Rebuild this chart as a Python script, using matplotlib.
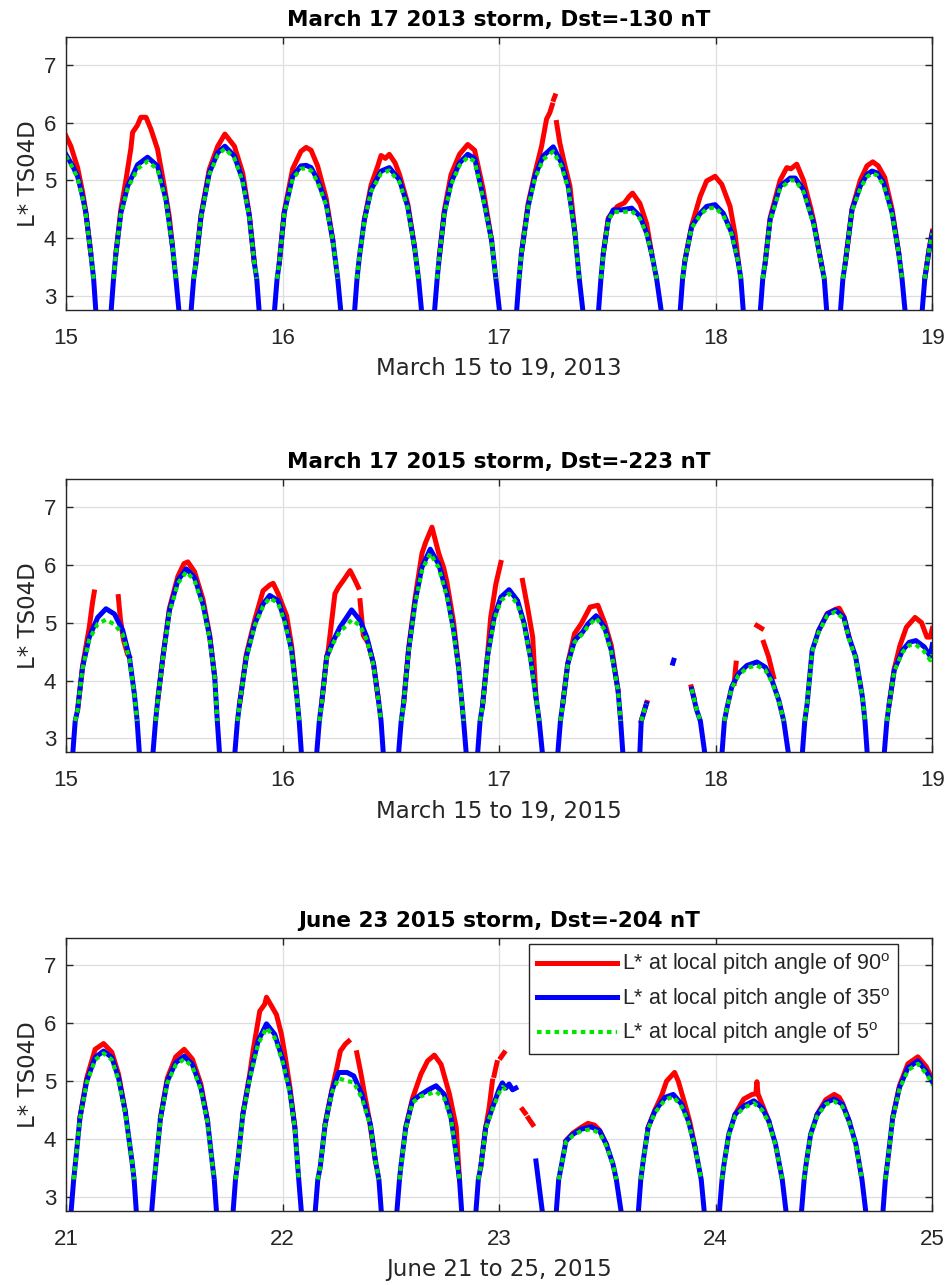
import numpy as np
import matplotlib.pyplot as plt

nan = np.nan

plt.rcParams['font.family'] = ['Liberation Sans', 'DejaVu Sans']
plt.rcParams['mathtext.fontset'] = 'custom'
plt.rcParams['mathtext.rm'] = 'Liberation Sans'

# ---- March 2013 storm: L* at 35 deg (blue) and 5 deg (green) share times
t_a = [
    15.000, 15.031, 15.054, 15.077, 15.092, 15.115, 15.128, 15.139, nan,
    15.208, 15.220, 15.231, 15.254, 15.285, 15.331, 15.377, 15.423, 15.462, 15.492, 15.508, 15.523, nan,
    15.577, 15.590, 15.600, 15.624, 15.662, 15.701, 15.734, 15.778, 15.816, 15.847, 15.870, 15.881, 15.893, nan,
    15.962, 15.975, 15.985, 16.008, 16.047, 16.085, 16.109, 16.132, 16.162, 16.201, 16.232, 16.255, 16.270, nan,
    16.332, 16.344, 16.355, 16.378, 16.409, 16.455, 16.493, 16.540, 16.578, 16.609, 16.628, 16.643, nan,
    16.701, 16.714, 16.724, 16.747, 16.778, 16.817, 16.855, 16.887, 16.926, 16.965, 16.985, 17.003, nan,
    17.080, 17.092, 17.103, 17.134, 17.165, 17.203, 17.250, 17.288, 17.319, 17.350, 17.370, 17.388, nan,
    17.458, 17.470, 17.481, 17.504, 17.527, 17.566, 17.612, 17.650, 17.681, 17.704, 17.727, 17.750, nan,
    17.835, 17.847, 17.858, 17.889, 17.928, 17.958, 17.997, 18.035, 18.074, 18.105, 18.116, 18.128, nan,
    18.205, 18.217, 18.228, 18.251, 18.297, 18.344, 18.367, 18.405, 18.452, 18.490, 18.501, 18.513, nan,
    18.575, 18.587, 18.598, 18.629, 18.667, 18.698, 18.721, 18.744, 18.775, 18.814, 18.845, 18.860, 18.875, nan,
    18.952, 18.965, 18.985, 19.000,
]
l35_a = [
    5.45, 5.25, 5.07, 4.72, 4.44, 3.74, 3.30, 2.70, nan,
    2.70, 3.30, 3.74, 4.44, 4.90, 5.27, 5.40, 5.25, 4.67, 3.86, 3.30, 2.70, nan,
    2.70, 3.30, 3.57, 4.38, 5.13, 5.48, 5.59, 5.42, 5.01, 4.38, 3.57, 3.30, 2.70, nan,
    2.70, 3.30, 3.57, 4.44, 5.07, 5.25, 5.26, 5.22, 5.01, 4.61, 3.97, 3.30, 2.70, nan,
    2.70, 3.30, 3.68, 4.32, 4.84, 5.16, 5.22, 5.01, 4.55, 3.86, 3.30, 2.70, nan,
    2.70, 3.30, 3.68, 4.44, 4.96, 5.30, 5.45, 5.38, 4.72, 3.97, 3.30, 2.70, nan,
    2.70, 3.30, 3.74, 4.55, 5.07, 5.42, 5.58, 5.30, 4.90, 4.09, 3.30, 2.70, nan,
    2.70, 3.30, 3.74, 4.32, 4.49, 4.49, 4.52, 4.38, 4.09, 3.74, 3.30, 2.70, nan,
    2.70, 3.30, 3.62, 4.20, 4.43, 4.55, 4.58, 4.43, 4.09, 3.57, 3.30, 2.70, nan,
    2.70, 3.30, 3.57, 4.32, 4.90, 5.04, 5.04, 4.84, 4.26, 3.51, 3.30, 2.70, nan,
    2.70, 3.30, 3.57, 4.49, 4.90, 5.10, 5.16, 5.13, 4.96, 4.44, 3.74, 3.30, 2.70, nan,
    2.70, 3.30, 3.80, 4.09,
]
l5_a = [
    5.42, 5.22, 5.04, 4.70, 4.42, 3.74, 3.30, nan, nan,
    nan, 3.30, 3.74, 4.42, 4.86, 5.20, 5.33, 5.19, 4.64, 3.86, 3.30, nan, nan,
    nan, 3.30, 3.57, 4.36, 5.10, 5.44, 5.55, 5.38, 4.98, 4.36, 3.57, 3.30, nan, nan,
    nan, 3.30, 3.57, 4.42, 5.03, 5.20, 5.21, 5.17, 4.97, 4.58, 3.96, 3.30, nan, nan,
    nan, 3.30, 3.68, 4.30, 4.81, 5.12, 5.17, 4.97, 4.52, 3.85, 3.30, nan, nan,
    nan, 3.30, 3.68, 4.42, 4.92, 5.26, 5.40, 5.33, 4.69, 3.96, 3.30, nan, nan,
    nan, 3.30, 3.74, 4.53, 5.03, 5.36, 5.50, 5.24, 4.86, 4.08, 3.30, nan, nan,
    nan, 3.30, 3.74, 4.30, 4.46, 4.45, 4.47, 4.34, 4.07, 3.73, 3.30, nan, nan,
    nan, 3.30, 3.62, 4.18, 4.40, 4.51, 4.53, 4.39, 4.06, 3.56, 3.30, nan, nan,
    nan, 3.30, 3.57, 4.30, 4.86, 5.00, 5.00, 4.80, 4.24, 3.50, 3.30, nan, nan,
    nan, 3.30, 3.57, 4.47, 4.86, 5.06, 5.12, 5.09, 4.92, 4.41, 3.73, 3.30, nan, nan,
    nan, 3.30, 3.80, 4.09,
]
# L* at 90 deg (red); follows the 35 deg curve outside these stretches
tr_a = [
    15.000, 15.023, 15.054, 15.077, 15.092, 15.115, nan,
    15.231, 15.254, 15.277, 15.300, 15.308, 15.330, 15.346, 15.370, 15.393, 15.423, 15.454, 15.477, 15.492, nan,
    15.600, 15.624, 15.662, 15.701, 15.734, 15.778, 15.816, 15.847, 15.870, nan,
    15.985, 16.008, 16.047, 16.085, 16.109, 16.132, 16.162, 16.201, 16.232, nan,
    16.378, 16.409, 16.440, 16.455, 16.475, 16.493, 16.520, 16.540, 16.578, 16.609, nan,
    16.724, 16.747, 16.778, 16.817, 16.855, 16.887, 16.926, 16.965, nan,
    17.103, 17.134, 17.165, 17.196, 17.219, 17.234, 17.245, nan, 17.252, 17.258, nan,
    17.265, 17.280, 17.304, 17.327, 17.350, nan,
    17.481, 17.504, 17.546, 17.578, 17.600, 17.616, 17.650, 17.681, 17.704, nan,
    17.858, 17.889, 17.928, 17.958, 17.997, 18.028, 18.066, 18.090, 18.105, nan,
    18.228, 18.251, 18.297, 18.328, 18.347, 18.374, 18.405, 18.440, 18.452, 18.490, nan,
    18.598, 18.629, 18.667, 18.698, 18.725, 18.750, 18.780, 18.814, 18.845, nan,
    18.965, 18.985, 19.000,
]
l90_a = [
    5.77, 5.59, 5.22, 4.80, 4.46, 3.74, nan,
    3.74, 4.50, 5.00, 5.55, 5.83, 5.95, 6.09, 6.09, 5.88, 5.54, 4.90, 4.38, 3.86, nan,
    3.57, 4.40, 5.19, 5.59, 5.80, 5.59, 5.13, 4.40, 3.57, nan,
    3.57, 4.46, 5.20, 5.50, 5.57, 5.52, 5.25, 4.70, 3.97, nan,
    4.32, 4.92, 5.25, 5.43, 5.38, 5.45, 5.30, 5.10, 4.60, 3.86, nan,
    3.68, 4.48, 5.10, 5.45, 5.62, 5.52, 4.85, 3.97, nan,
    3.74, 4.60, 5.12, 5.59, 6.06, 6.17, 6.30, nan, 6.40, 6.46, nan,
    6.00, 5.65, 5.25, 4.90, 4.09, nan,
    3.74, 4.35, 4.55, 4.61, 4.72, 4.78, 4.60, 4.25, 3.74, nan,
    3.62, 4.22, 4.72, 4.99, 5.07, 4.93, 4.55, 4.05, 3.57, nan,
    3.57, 4.35, 5.00, 5.22, 5.20, 5.28, 5.00, 4.50, 4.30, 3.51, nan,
    3.57, 4.50, 5.00, 5.25, 5.32, 5.25, 5.05, 4.50, 3.74, nan,
    3.30, 3.82, 4.12,
]

# ---- March 2015 storm
t_b = [
    15.031, 15.043, 15.054, 15.077, 15.108, 15.147, 15.185, 15.224, 15.262, 15.293, 15.316, 15.329, 15.340, nan,
    15.401, 15.414, 15.424, 15.448, 15.478, 15.517, 15.556, 15.594, 15.633, 15.664, 15.687, 15.699, 15.710, nan,
    15.779, 15.792, 15.802, 15.833, 15.872, 15.910, 15.941, 15.980, 16.011, 16.042, 16.065, 16.077, 16.088, nan,
    16.157, 16.170, 16.181, 16.204, 16.235, 16.265, 16.296, 16.319, 16.358, 16.389, 16.420, 16.443, 16.455, 16.466, nan,
    16.535, 16.548, 16.559, 16.582, 16.613, 16.644, 16.682, 16.721, 16.759, 16.790, 16.813, 16.836, 16.849, nan,
    16.900, 16.912, 16.923, 16.946, 16.977, 17.008, 17.046, 17.085, 17.116, 17.147, 17.170, 17.185, 17.201, nan,
    17.270, 17.283, 17.294, 17.317, 17.348, 17.386, 17.410, 17.448, 17.487, 17.518, 17.549, 17.561, 17.572, nan,
    17.649, 17.656, 17.680, nan,
    17.802, 17.806, nan,
    17.889, 17.912, 17.929, 17.951, nan,
    18.028, 18.040, 18.051, 18.074, 18.105, 18.144, 18.190, 18.229, 18.260, 18.291, 18.314, 18.337, nan,
    18.399, 18.411, 18.422, 18.445, 18.476, 18.515, 18.553, 18.592, 18.615, 18.646, 18.677, 18.689, 18.700, nan,
    18.777, 18.790, 18.801, 18.824, 18.862, 18.893, 18.924, 18.963, 18.990, 19.000,
]
l35_b = [
    2.70, 3.30, 3.49, 4.23, 4.75, 5.09, 5.24, 5.15, 4.87, 4.41, 3.77, 3.30, 2.70, nan,
    2.70, 3.30, 3.66, 4.41, 5.21, 5.73, 5.93, 5.78, 5.32, 4.75, 4.06, 3.30, 2.70, nan,
    2.70, 3.30, 3.60, 4.41, 4.98, 5.32, 5.47, 5.38, 5.04, 4.52, 3.77, 3.30, 2.70, nan,
    2.70, 3.30, 3.62, 4.41, 4.69, 4.92, 5.09, 5.22, 5.04, 4.75, 4.29, 3.66, 3.30, 2.70, nan,
    2.70, 3.30, 3.60, 4.52, 5.38, 5.96, 6.27, 6.01, 5.50, 4.87, 4.23, 3.30, 2.70, nan,
    2.70, 3.30, 3.55, 4.41, 5.09, 5.44, 5.57, 5.38, 4.98, 4.35, 3.72, 3.30, 2.70, nan,
    2.70, 3.30, 3.60, 4.29, 4.69, 4.84, 4.98, 5.12, 4.92, 4.52, 3.83, 3.30, 2.70, nan,
    2.70, 3.30, 3.60, nan,
    4.30, 4.35, nan,
    3.85, 3.49, 3.30, 2.70, nan,
    2.70, 3.30, 3.51, 3.89, 4.12, 4.26, 4.32, 4.23, 4.00, 3.66, 3.30, 2.70, nan,
    2.70, 3.30, 3.60, 4.52, 4.87, 5.15, 5.22, 5.09, 4.75, 4.41, 3.72, 3.30, 2.70, nan,
    2.70, 3.30, 3.60, 4.18, 4.52, 4.66, 4.69, 4.58, 4.42, 4.62,
]
l5_b = [
    nan, 3.30, 3.49, 4.21, 4.71, 4.98, 5.05, 4.97, 4.80, 4.37, 3.76, 3.30, nan, nan,
    nan, 3.30, 3.66, 4.39, 5.17, 5.68, 5.88, 5.73, 5.28, 4.72, 4.05, 3.30, nan, nan,
    nan, 3.30, 3.60, 4.39, 4.95, 5.28, 5.43, 5.33, 5.00, 4.49, 3.76, 3.30, nan, nan,
    nan, 3.30, 3.62, 4.39, 4.65, 4.85, 4.95, 5.05, 4.95, 4.70, 4.26, 3.65, 3.30, nan, nan,
    nan, 3.30, 3.60, 4.50, 5.34, 5.91, 6.20, 5.95, 5.45, 4.83, 4.21, 3.30, nan, nan,
    nan, 3.30, 3.55, 4.39, 5.05, 5.38, 5.50, 5.32, 4.94, 4.32, 3.71, 3.30, nan, nan,
    nan, 3.30, 3.60, 4.27, 4.66, 4.81, 4.94, 5.08, 4.88, 4.49, 3.82, 3.30, nan, nan,
    nan, 3.30, 3.60, nan,
    nan, nan, nan,
    3.85, 3.49, 3.30, nan, nan,
    nan, 3.30, 3.51, 3.87, 4.09, 4.22, 4.26, 4.18, 3.97, 3.65, 3.30, nan, nan,
    nan, 3.30, 3.60, 4.50, 4.84, 5.12, 5.19, 5.06, 4.72, 4.38, 3.71, 3.30, nan, nan,
    nan, 3.30, 3.60, 4.16, 4.49, 4.61, 4.62, 4.50, 4.35, 4.45,
]
tr_b = [
    15.054, 15.077, 15.108, 15.123, 15.131, nan, 15.242, 15.252, 15.266, 15.285, 15.293, nan,
    15.424, 15.448, 15.478, 15.517, 15.545, 15.563, 15.594, 15.633, 15.664, 15.687, nan,
    15.802, 15.833, 15.872, 15.910, 15.941, 15.957, 15.980, 16.000, 16.019, 16.042, 16.065, nan,
    16.181, 16.204, 16.211, 16.242, 16.258, 16.281, 16.312, 16.335, 16.350, nan,
    16.358, 16.373, 16.395, 16.420, 16.443, nan,
    16.559, 16.582, 16.613, 16.644, 16.660, 16.690, 16.721, 16.744, 16.759, 16.790, 16.813, nan,
    16.923, 16.946, 16.961, 16.985, 17.008, nan, 17.108, 17.131, 17.155, 17.170, nan,
    17.294, 17.317, 17.348, 17.379, 17.420, 17.456, 17.487, 17.518, 17.549, nan,
    17.656, 17.682, nan,
    17.887, 17.900, nan,
    18.085, 18.094, nan, 18.190, 18.212, nan, 18.221, 18.244, 18.267, nan,
    18.476, 18.515, 18.553, 18.570, 18.592, 18.615, nan,
    18.801, 18.824, 18.850, 18.880, 18.920, 18.950, 18.975, 18.990, 19.000,
]
l90_b = [
    3.49, 4.25, 4.92, 5.35, 5.53, nan, 5.45, 5.05, 4.70, 4.45, 4.41, nan,
    3.66, 4.41, 5.25, 5.80, 6.02, 6.05, 5.88, 5.40, 4.78, 4.06, nan,
    3.60, 4.45, 5.05, 5.55, 5.65, 5.68, 5.50, 5.30, 5.12, 4.60, 3.77, nan,
    3.62, 4.41, 4.52, 5.50, 5.61, 5.73, 5.90, 5.73, 5.61, nan,
    5.38, 4.78, 4.65, 4.29, 3.66, nan,
    3.60, 4.55, 5.45, 6.20, 6.38, 6.65, 6.20, 5.95, 5.70, 5.00, 4.23, nan,
    3.55, 4.41, 5.09, 5.67, 6.04, nan, 5.73, 5.27, 4.75, 3.72, nan,
    3.60, 4.30, 4.81, 4.98, 5.27, 5.30, 5.00, 4.60, 3.83, nan,
    3.30, 3.62, nan,
    3.89, 3.70, nan,
    3.95, 4.30, nan, 4.95, 4.90, nan, 4.66, 4.41, 4.06, nan,
    4.87, 5.16, 5.23, 5.25, 5.10, 4.75, nan,
    3.60, 4.20, 4.60, 4.92, 5.09, 5.00, 4.75, 4.75, 4.90,
]

# ---- June 2015 storm
t_c = [
    21.023, 21.036, 21.042, 21.065, 21.096, 21.135, 21.174, 21.212, 21.243, 21.274, 21.305, 21.315, 21.326, nan,
    21.395, 21.408, 21.414, 21.437, 21.468, 21.507, 21.546, 21.584, 21.623, 21.654, 21.678, 21.685, 21.696, nan,
    21.771, 21.783, 21.794, 21.817, 21.848, 21.887, 21.926, 21.964, 22.003, 22.034, 22.057, 22.075, 22.088, nan,
    22.150, 22.163, 22.174, 22.197, 22.228, 22.259, 22.298, 22.329, 22.367, 22.406, 22.429, 22.445, 22.457, nan,
    22.527, 22.540, 22.546, 22.569, 22.600, 22.639, 22.678, 22.709, 22.747, 22.778, 22.802, 22.817, 22.828, nan,
    22.892, 22.904, 22.915, 22.938, 22.969, 23.000, 23.015, 23.031, 23.046, 23.062, 23.077, nan,
    23.170, 23.201, nan,
    23.263, 23.275, 23.286, 23.309, 23.340, 23.379, 23.425, 23.464, 23.495, 23.526, 23.541, 23.565, nan,
    23.642, 23.654, 23.665, 23.688, 23.719, 23.766, 23.804, 23.843, 23.874, 23.905, 23.933, 23.948, nan,
    24.016, 24.029, 24.036, 24.060, 24.090, 24.129, 24.176, 24.214, 24.245, 24.276, 24.307, 24.326, nan,
    24.395, 24.408, 24.415, 24.438, 24.469, 24.508, 24.547, 24.585, 24.616, 24.647, 24.675, 24.694, nan,
    24.771, 24.783, 24.794, 24.817, 24.848, 24.887, 24.933, 24.972, 25.003,
]
l35_c = [
    2.70, 3.30, 3.51, 4.37, 5.00, 5.41, 5.52, 5.41, 5.06, 4.48, 3.62, 3.30, 2.70, nan,
    2.70, 3.30, 3.51, 4.37, 5.00, 5.32, 5.43, 5.29, 4.89, 4.31, 3.51, 3.30, 2.70, nan,
    2.70, 3.30, 3.62, 4.43, 5.06, 5.69, 5.99, 5.81, 5.35, 4.83, 4.20, 3.30, 2.70, nan,
    2.70, 3.30, 3.51, 4.26, 4.83, 5.15, 5.15, 5.09, 4.77, 4.25, 3.62, 3.30, 2.70, nan,
    2.70, 3.30, 3.51, 4.20, 4.66, 4.77, 4.86, 4.92, 4.77, 4.37, 3.74, 3.30, 2.70, nan,
    2.70, 3.30, 3.51, 4.20, 4.54, 4.86, 4.97, 4.88, 4.95, 4.85, 4.88, nan,
    3.62, 2.70, nan,
    2.70, 3.30, 3.51, 3.97, 4.08, 4.17, 4.21, 4.14, 3.91, 3.56, 3.30, 2.70, nan,
    2.70, 3.30, 3.62, 4.20, 4.48, 4.72, 4.77, 4.60, 4.31, 3.85, 3.30, 2.70, nan,
    2.70, 3.30, 3.51, 4.08, 4.43, 4.57, 4.66, 4.54, 4.31, 3.91, 3.30, 2.70, nan,
    2.70, 3.30, 3.51, 4.08, 4.43, 4.63, 4.69, 4.60, 4.31, 3.91, 3.30, 2.70, nan,
    2.70, 3.30, 3.62, 4.37, 4.89, 5.23, 5.35, 5.17, 4.97,
]
l5_c = [
    nan, 3.30, 3.51, 4.35, 4.97, 5.37, 5.48, 5.37, 5.02, 4.45, 3.61, 3.30, nan, nan,
    nan, 3.30, 3.51, 4.35, 4.97, 5.28, 5.38, 5.25, 4.85, 4.28, 3.50, 3.30, nan, nan,
    nan, 3.30, 3.62, 4.41, 5.03, 5.64, 5.92, 5.75, 5.30, 4.80, 4.18, 3.30, nan, nan,
    nan, 3.30, 3.51, 4.24, 4.80, 5.05, 5.00, 4.98, 4.70, 4.22, 3.61, 3.30, nan, nan,
    nan, 3.30, 3.51, 4.18, 4.63, 4.74, 4.78, 4.82, 4.70, 4.34, 3.73, 3.30, nan, nan,
    nan, 3.30, 3.51, 4.18, 4.51, 4.80, 4.90, 4.85, 4.85, nan, nan, nan,
    nan, nan, nan,
    nan, 3.30, 3.51, 3.95, 4.06, 4.14, 4.17, 4.10, 3.88, 3.55, 3.30, nan, nan,
    nan, 3.30, 3.62, 4.18, 4.45, 4.68, 4.73, 4.56, 4.28, 3.84, 3.30, nan, nan,
    nan, 3.30, 3.51, 4.06, 4.40, 4.54, 4.62, 4.50, 4.28, 3.89, 3.30, nan, nan,
    nan, 3.30, 3.51, 4.06, 4.40, 4.60, 4.65, 4.56, 4.28, 3.89, 3.30, nan, nan,
    nan, 3.30, 3.62, 4.35, 4.86, 5.19, 5.30, 5.13, 4.93,
]
tr_c = [
    21.065, 21.096, 21.135, 21.174, 21.212, 21.243, 21.274, nan,
    21.437, 21.468, 21.507, 21.546, 21.584, 21.623, 21.654, nan,
    21.817, 21.848, 21.864, 21.895, 21.918, 21.926, 21.949, 21.972, 21.995, 22.011, 22.034, 22.057, nan,
    22.197, 22.228, 22.251, 22.267, 22.290, 22.305, nan, 22.343, 22.360, 22.380, 22.400, 22.429, nan,
    22.569, 22.600, 22.639, 22.670, 22.701, 22.732, 22.771, 22.802, 22.817, nan,
    22.915, 22.938, 22.954, 22.969, nan, 22.977, 22.990, nan, 23.008, 23.023, nan,
    23.108, 23.120, nan, 23.135, 23.155, nan,
    23.309, 23.340, 23.379, 23.410, 23.440, 23.464, 23.495, nan,
    23.688, 23.719, 23.750, 23.773, 23.810, 23.827, 23.858, 23.880, 23.905, nan,
    24.090, 24.129, 24.168, 24.185, 24.190, 24.195, 24.214, 24.245, nan,
    24.469, 24.508, 24.547, 24.570, 24.585, 24.616, nan,
    24.817, 24.848, 24.887, 24.933, 24.972, 25.003,
]
l90_c = [
    4.37, 5.05, 5.55, 5.65, 5.50, 5.12, 4.48, nan,
    4.37, 5.05, 5.42, 5.55, 5.38, 4.95, 4.31, nan,
    4.43, 5.10, 5.52, 6.21, 6.33, 6.45, 6.30, 6.15, 5.81, 5.46, 4.90, 4.20, nan,
    4.26, 4.85, 5.23, 5.52, 5.64, 5.69, nan, 5.49, 5.17, 4.75, 4.35, 3.62, nan,
    4.20, 4.70, 5.12, 5.35, 5.45, 5.29, 4.77, 4.20, 3.30, nan,
    3.51, 4.20, 4.54, 5.00, nan, 5.10, 5.32, nan, 5.41, 5.49, nan,
    4.51, 4.45, nan, 4.36, 4.25, nan,
    3.97, 4.10, 4.20, 4.27, 4.24, 4.15, 3.91, nan,
    4.20, 4.50, 4.75, 5.00, 5.15, 5.00, 4.60, 4.30, 3.85, nan,
    4.43, 4.69, 4.77, 4.78, 4.99, 4.78, 4.60, 4.31, nan,
    4.43, 4.68, 4.77, 4.72, 4.62, 4.31, nan,
    4.37, 4.92, 5.30, 5.42, 5.25, 5.00,
]

titles = ['March 17 2013 storm, Dst=-130 nT',
          'March 17 2015 storm, Dst=-223 nT',
          'June 23 2015 storm, Dst=-204 nT']
xlabels = ['March 15 to 19, 2013', 'March 15 to 19, 2015', 'June 21 to 25, 2015']
first_day = [15, 15, 21]
labels = [r'L* at local pitch angle of 90$^{\rm o}$',
          r'L* at local pitch angle of 35$^{\rm o}$',
          r'L* at local pitch angle of 5$^{\rm o}$']

series = [(t_a, l35_a, l5_a, tr_a, l90_a),
          (t_b, l35_b, l5_b, tr_b, l90_b),
          (t_c, l35_c, l5_c, tr_c, l90_c)]
bottoms = [0.7588, 0.4146, 0.0578]

fig = plt.figure(figsize=(9.48, 12.85), dpi=100)
txt = '#262626'
wide = ['DejaVu Sans']

for i in range(3):
    t, l35, l5, tr, l90 = series[i]
    ax = fig.add_axes([0.0695, bottoms[i], 0.914, 0.2125])
    h1, = ax.plot(tr, l90, color='red', lw=3.6)
    h2, = ax.plot(t, l35, color='blue', lw=3.6)
    h3, = ax.plot(t, l5, color='#00e600', lw=3.0, ls=(0, (1.1, 1.0)))

    d0 = first_day[i]
    ax.set_xlim(d0, d0 + 4)
    ax.set_ylim(2.76, 7.48)
    ax.set_xticks(range(d0, d0 + 5))
    ax.set_yticks([3, 4, 5, 6, 7])
    ax.grid(True, color='#dedede', lw=0.9)
    ax.set_axisbelow(True)
    ax.tick_params(direction='in', top=True, right=True, length=5, width=1,
                   labelsize=16, colors=txt)
    ax.tick_params(axis='x', pad=13)
    ax.tick_params(axis='y', pad=7)
    for sp in ax.spines.values():
        sp.set_color(txt)
        sp.set_linewidth(1.0)
    ax.set_title(titles[i], fontsize=15.5, fontweight='bold', color='black',
                 pad=8, family=wide)
    ax.set_xlabel(xlabels[i], fontsize=16.5, color=txt, labelpad=6, family=wide)
    ax.set_ylabel('L* TS04D', fontsize=16.5, color=txt, labelpad=3, family=wide)

    if i == 2:
        leg = ax.legend([h1, h2, h3], labels, loc='upper right',
                        bbox_to_anchor=(0.960, 0.977), borderaxespad=0,
                        fontsize=15.5, handlelength=3.7, handletextpad=0.25,
                        labelspacing=0.4, borderpad=0.35, fancybox=False,
                        framealpha=1, edgecolor=txt)
        leg.get_frame().set_linewidth(1.0)
        for text in leg.get_texts():
            text.set_color(txt)

fig.savefig('out.png', dpi=100)
